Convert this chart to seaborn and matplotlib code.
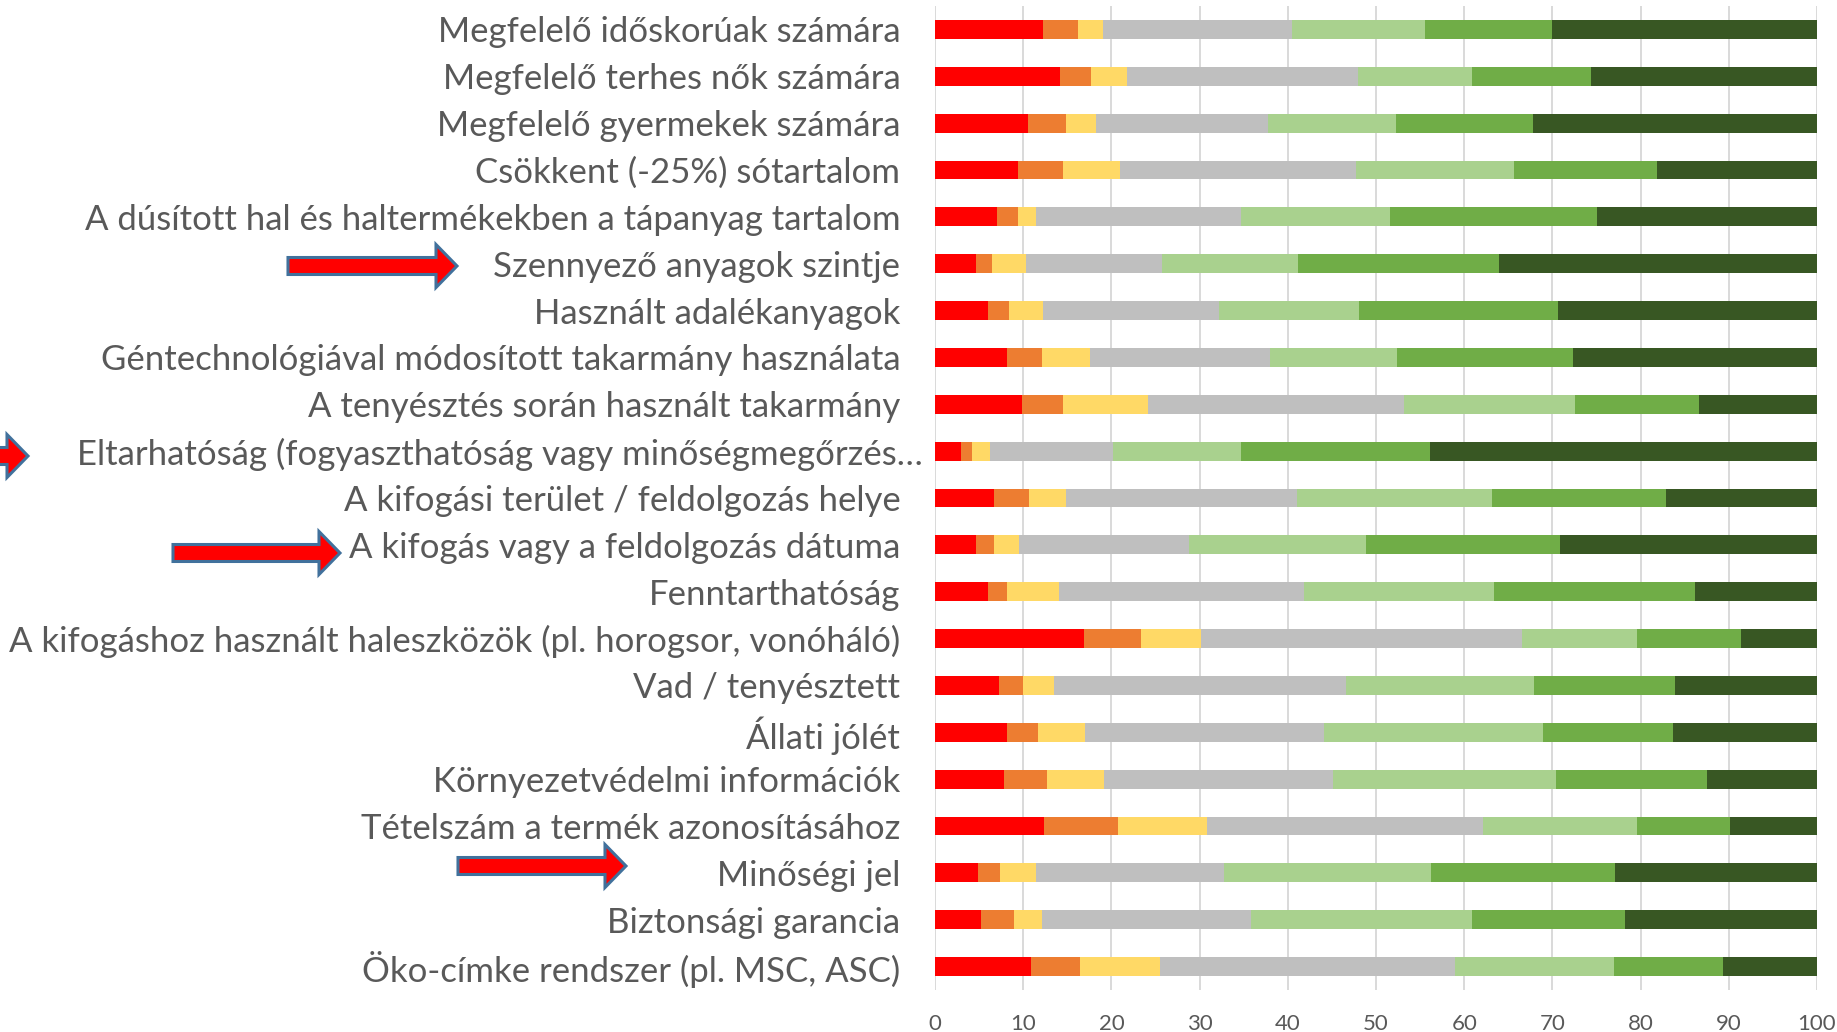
import numpy as np
import pandas as pd
import matplotlib
matplotlib.use('Agg')
import matplotlib.pyplot as plt
from matplotlib.patches import FancyArrow
from matplotlib.transforms import ScaledTranslation
import seaborn as sns

# ── Data ─────────────────────────────────────────────────────────────
labels = [
    "Megfelelő időskorúak számára",
    "Megfelelő terhes nők számára",
    "Megfelelő gyermekek számára",
    "Csökkent (-25%) sótartalom",
    "A dúsított hal és haltermékekben a tápanyag tartalom",
    "Szennyező anyagok szintje",
    "Használt adalékanyagok",
    "Géntechnológiával módosított takarmány használata",
    "A tenyésztés során használt takarmány",
    "Eltarhatóság (fogyaszthatóság vagy minőségmegőrzés…",
    "A kifogási terület / feldolgozás helye",
    "A kifogás vagy a feldolgozás dátuma",
    "Fenntarthatóság",
    "A kifogáshoz használt haleszközök (pl. horogsor, vonóháló)",
    "Vad / tenyésztett",
    "Állati jólét",
    "Környezetvédelmi információk",
    "Tételszám a termék azonosításához",
    "Minőségi jel",
    "Biztonsági garancia",
    "Öko-címke rendszer (pl. MSC, ASC)",
]

s1 = [12.3, 14.2, 10.5, 9.4, 7.0, 4.7, 6.0, 8.2, 9.9, 2.9, 6.7,
      4.7, 6.0, 16.9, 7.2, 8.2, 7.8, 12.4, 4.9, 5.2, 10.9]
s2 = [3.9, 3.5, 4.3, 5.1, 2.4, 1.8, 2.4, 3.9, 4.6, 1.3, 4.0,
      2.0, 2.2, 6.4, 2.8, 3.5, 4.9, 8.4, 2.5, 3.8, 5.5]
s3 = [2.9, 4.1, 3.5, 6.5, 2.1, 3.8, 3.9, 5.5, 9.7, 2.0, 4.1,
      2.8, 5.9, 6.9, 3.5, 5.3, 6.5, 10.0, 4.1, 3.1, 9.1]
s4 = [21.4, 26.2, 19.5, 26.7, 23.2, 15.4, 19.9, 20.4, 29.0, 14.0, 26.2,
      19.3, 27.7, 36.4, 33.1, 27.1, 25.9, 31.3, 21.3, 23.7, 33.5]
s5 = [15.1, 12.9, 14.5, 17.9, 16.9, 15.5, 15.9, 14.4, 19.4, 14.5, 22.1,
      20.1, 21.6, 13.0, 21.3, 24.8, 25.3, 17.5, 23.4, 25.1, 18.0]
s6 = [14.4, 13.5, 15.5, 16.3, 23.5, 22.8, 22.5, 19.9, 14.0, 21.4, 19.8,
      22.0, 22.8, 11.8, 16.0, 14.8, 17.1, 10.5, 20.9, 17.3, 12.3]
s7 = [30.0, 25.6, 32.2, 18.1, 24.9, 36.0, 29.4, 27.7, 13.4, 43.9, 17.1,
      29.1, 13.8, 8.6, 16.1, 16.3, 12.5, 9.9, 22.9, 21.8, 10.7]

series = [s1, s2, s3, s4, s5, s6, s7]
colors = ["#FF0000", "#ED7D31", "#FFD966", "#BFBFBF",
          "#A9D18E", "#70AD47", "#385723"]
xticks = [0, 10, 20, 30, 40, 50, 60, 70, 80, 90, 100]

TEXT = "#595959"
W, H = 1837, 1032

sns.set_theme(style="white")
plt.rcParams['font.family'] = ['Lato', 'DejaVu Sans']

fig = plt.figure(figsize=(W / 100, H / 100), dpi=100)
ax = fig.add_axes([935 / W, 1 - 990 / H, (1817 - 935) / W, (990 - 6) / H])

df = pd.DataFrame({"label": labels})
cum = np.cumsum(np.array(series), axis=0)

# stacked bars: draw cumulative totals from the largest down
for k in range(len(series) - 1, -1, -1):
    df["v"] = cum[k]
    sns.barplot(data=df, x="v", y="label", orient="h", color=colors[k],
                saturation=1, width=0.4, linewidth=0, ax=ax, zorder=2)

ax.set_xlim(0, 100)
ax.set_ylim(len(labels) - 0.5, -0.5)
ax.set_xticks(xticks)
ax.set_xlabel("")
ax.set_ylabel("")
ax.xaxis.grid(True, color="#D9D9D9", linewidth=1.4, zorder=0)
ax.yaxis.grid(False)
ax.set_axisbelow(True)
for sp in ax.spines.values():
    sp.set_visible(False)

ax.tick_params(axis="y", length=0, pad=25, labelsize=25, labelcolor=TEXT)
ax.tick_params(axis="x", length=5, width=1.2, color="#D9D9D9", pad=12,
               labelsize=16, labelcolor=TEXT)

# truncated Excel label overflows a bit
for t in ax.get_yticklabels():
    if t.get_text().startswith("Eltarhat"):
        t.set_transform(t.get_transform() + ScaledTranslation(0.22, 0, fig.dpi_scale_trans))


def add_arrow(x0, x1, y):
    arr = FancyArrow(x0 / W, 1 - y / H, (x1 - x0) / W, 0,
                     width=17 / H, head_width=43 / H, head_length=21 / W,
                     length_includes_head=True, transform=fig.transFigure,
                     facecolor="#FF0000", edgecolor="#41719C", linewidth=2.2,
                     clip_on=False)
    fig.add_artist(arr)


add_arrow(288, 457, 266)
add_arrow(-140, 28, 456)
add_arrow(173, 340, 553)
add_arrow(458, 626, 866)

fig.savefig("out.png", dpi=100, facecolor="white")
